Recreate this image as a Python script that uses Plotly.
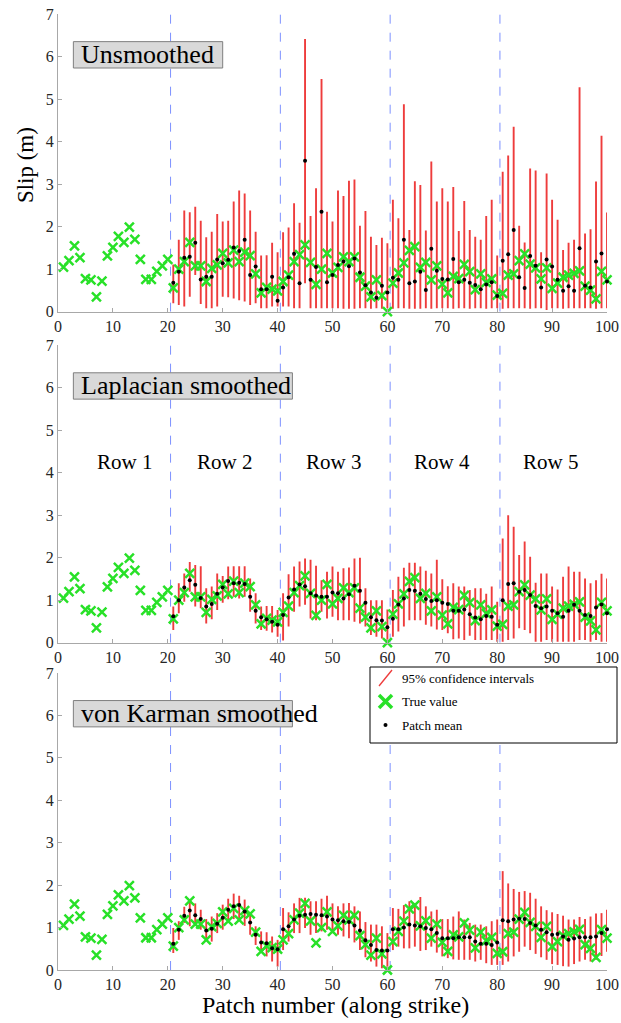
import plotly.graph_objects as go

# ---------------- data ----------------
patch_all = list(range(1, 101))
patch_ci = list(range(21, 101))

true_value = [1.05, 1.20, 1.55, 1.27, 0.78, 0.75, 0.35, 0.72, 1.31, 1.51,
              1.77, 1.63, 1.99, 1.70, 1.23, 0.76, 0.76, 0.95, 1.08, 1.23,
              0.56, 1.00, 1.18, 1.63, 1.08, 1.08, 0.71, 1.02, 1.10, 1.37,
              1.15, 1.45, 1.18, 1.40, 1.32, 0.89, 0.44, 0.57, 0.53, 0.49,
              0.71, 0.86, 1.18, 1.34, 1.57, 1.16, 0.64, 1.00, 1.37, 0.91,
              1.04, 1.29, 1.18, 1.29, 0.81, 0.60, 0.35, 0.75, 0.38, 0.00,
              0.67, 0.91, 1.15, 1.44, 1.53, 1.04, 1.16, 0.75, 1.08, 0.65,
              0.44, 0.83, 0.78, 1.11, 0.94, 0.52, 0.89, 0.69, 0.77, 0.39,
              0.43, 0.86, 0.89, 1.20, 1.36, 1.12, 1.03, 0.77, 1.03, 0.55,
              0.67, 0.81, 0.86, 0.90, 0.96, 0.60, 0.51, 0.30, 0.95, 0.75]

# Unsmoothed (patches 21-100)
mean_unsm = [0.68, 0.94, 1.27, 1.29, 1.62, 0.76, 0.82, 0.82, 1.23, 1.14,
             1.22, 1.51, 1.43, 1.69, 0.86, 1.06, 0.53, 0.53, 0.82, 0.26,
             0.57, 0.81, 1.36, 0.67, 3.55, 0.75, 1.05, 2.35, 0.69, 0.86,
             1.10, 1.18, 1.07, 1.25, 0.92, 0.62, 0.45, 0.33, 0.61, 0.45,
             0.80, 0.75, 1.69, 0.67, 0.71, 0.94, 0.51, 1.48, 0.96, 0.77,
             0.76, 1.24, 0.69, 0.75, 0.68, 0.63, 0.53, 0.64, 0.69, 0.37,
             1.20, 1.35, 1.92, 0.81, 0.56, 1.31, 1.08, 0.57, 1.23, 1.06,
             0.75, 0.49, 0.60, 0.49, 1.49, 0.61, 0.57, 1.18, 1.37, 0.71]
hi_unsm = [1.11, 1.69, 2.38, 2.34, 2.47, 2.14, 1.75, 1.88, 2.30, 2.12,
           2.14, 2.59, 2.85, 2.78, 2.38, 1.88, 1.32, 1.33, 1.62, 1.40,
           1.87, 1.98, 2.55, 2.09, 6.41, 2.25, 2.90, 5.47, 2.35, 2.12,
           2.85, 2.72, 3.08, 3.11, 2.02, 2.37, 1.76, 1.57, 1.74, 1.61,
           2.63, 2.20, 4.88, 1.92, 3.07, 2.98, 1.91, 3.53, 2.59, 2.90,
           2.59, 2.93, 1.90, 2.60, 1.92, 1.76, 1.69, 2.25, 2.63, 1.32,
           3.29, 3.67, 4.35, 2.02, 1.63, 3.37, 3.32, 1.40, 3.25, 2.63,
           2.16, 1.45, 1.62, 1.69, 5.28, 1.84, 1.94, 3.06, 4.14, 2.33]
lo_unsm = [0.20, 0.16, 0.12, 0.35, 0.86, 0.18, 0.08, 0.08, 0.12, 0.35,
           0.34, 0.31, 0.27, 0.24, 0.16, 0.20, 0.08, 0.08, 0.12, 0.12,
           0.12, 0.12, 0.08, 0.08, 0.67, 0.08, 0.08, 0.08, 0.08, 0.08,
           0.08, 0.07, 0.07, 0.07, 0.08, 0.08, 0.07, 0.08, 0.07, 0.08,
           0.07, 0.08, 0.08, 0.07, 0.07, 0.07, 0.08, 0.07, 0.08, 0.08,
           0.08, 0.07, 0.08, 0.08, 0.07, 0.08, 0.08, 0.07, 0.08, 0.08,
           0.07, 0.08, 0.08, 0.08, 0.08, 0.07, 0.08, 0.08, 0.04, 0.08,
           0.08, 0.07, 0.08, 0.08, 0.08, 0.08, 0.08, 0.07, 0.08, 0.08]

# Laplacian smoothed
mean_lap = [0.62, 1.00, 1.30, 1.47, 1.36, 1.05, 0.85, 0.91, 1.15, 1.30,
            1.45, 1.40, 1.41, 1.38, 1.08, 0.75, 0.60, 0.55, 0.49, 0.42,
            0.65, 1.06, 1.25, 1.37, 1.33, 1.16, 1.11, 1.08, 1.08, 1.18,
            1.16, 1.04, 1.14, 1.34, 1.22, 0.94, 0.60, 0.53, 0.52, 0.36,
            0.56, 0.90, 1.04, 1.24, 1.22, 1.15, 1.03, 0.98, 1.00, 0.94,
            0.91, 0.75, 0.75, 0.78, 0.67, 0.59, 0.55, 0.63, 0.61, 0.42,
            1.00, 1.38, 1.40, 1.20, 1.24, 1.12, 0.86, 0.81, 0.85, 0.75,
            0.69, 0.61, 0.75, 0.89, 0.75, 0.65, 0.63, 0.83, 0.90, 0.69]
hi_lap = [0.85, 1.40, 1.63, 1.90, 1.83, 1.80, 1.28, 1.32, 1.63, 1.57,
          1.79, 1.80, 1.80, 1.80, 1.51, 1.16, 0.85, 0.86, 0.86, 0.77,
          1.16, 1.61, 1.79, 1.91, 1.98, 1.95, 1.81, 1.47, 1.67, 1.79,
          1.67, 1.75, 1.77, 1.98, 2.00, 1.28, 1.00, 1.00, 1.00, 0.78,
          1.24, 1.55, 1.76, 1.88, 1.88, 1.79, 1.69, 1.63, 1.95, 1.49,
          1.33, 1.40, 1.32, 1.32, 1.24, 1.28, 1.28, 1.15, 1.32, 0.96,
          2.45, 3.00, 2.73, 2.06, 2.38, 2.02, 1.41, 1.63, 1.63, 1.32,
          1.25, 1.55, 1.79, 1.67, 1.67, 1.51, 1.40, 1.47, 1.62, 1.51]
lo_lap = [0.30, 0.69, 0.96, 1.20, 0.85, 0.81, 0.45, 0.55, 0.77, 0.94,
          1.02, 1.08, 1.04, 1.08, 0.73, 0.45, 0.30, 0.28, 0.24, 0.14,
          0.05, 0.38, 0.73, 0.85, 0.89, 0.57, 0.53, 0.73, 0.57, 0.61,
          0.53, 0.53, 0.53, 0.49, 0.45, 0.38, 0.18, 0.14, 0.10, 0.02,
          0.14, 0.26, 0.38, 0.53, 0.53, 0.53, 0.42, 0.38, 0.31, 0.30,
          0.22, 0.08, 0.10, 0.06, 0.16, 0.06, 0.06, 0.06, 0.06, 0.02,
          0.02, 0.06, 0.10, 0.34, 0.30, 0.22, 0.02, 0.02, 0.06, 0.02,
          0.02, 0.02, 0.02, 0.02, 0.06, 0.06, 0.02, 0.06, 0.02, 0.02]

# von Karman smoothed
mean_vk = [0.62, 0.95, 1.28, 1.40, 1.29, 1.20, 0.93, 0.97, 1.09, 1.23,
           1.42, 1.50, 1.53, 1.38, 1.12, 0.83, 0.65, 0.63, 0.51, 0.49,
           0.96, 1.03, 1.19, 1.28, 1.30, 1.32, 1.30, 1.29, 1.26, 1.19,
           1.17, 1.15, 1.13, 1.05, 0.93, 0.70, 0.59, 0.47, 0.46, 0.46,
           0.96, 0.96, 1.00, 1.07, 1.05, 1.03, 0.99, 0.96, 0.87, 0.75,
           0.75, 0.75, 0.77, 0.77, 0.77, 0.67, 0.62, 0.62, 0.59, 0.65,
           1.17, 1.15, 1.19, 1.21, 1.20, 1.11, 1.05, 0.95, 0.89, 0.83,
           0.85, 0.79, 0.71, 0.74, 0.77, 0.77, 0.77, 0.79, 0.87, 0.96]
hi_vk = [0.99, 1.15, 1.49, 1.62, 1.57, 1.42, 1.20, 1.26, 1.34, 1.54,
         1.68, 1.80, 1.75, 1.66, 1.34, 1.03, 0.91, 0.89, 0.79, 0.71,
         1.46, 1.36, 1.57, 1.70, 1.70, 1.62, 1.62, 1.68, 1.75, 1.57,
         1.50, 1.57, 1.58, 1.50, 1.38, 1.13, 1.07, 1.07, 1.03, 0.87,
         1.46, 1.44, 1.53, 1.62, 1.58, 1.72, 1.50, 1.38, 1.42, 1.20,
         1.20, 1.26, 1.38, 1.19, 1.11, 1.07, 1.07, 1.03, 1.15, 1.19,
         2.33, 2.04, 1.91, 1.84, 1.86, 1.82, 1.68, 1.50, 1.41, 1.36,
         1.32, 1.28, 1.19, 1.19, 1.25, 1.20, 1.26, 1.33, 1.34, 1.42]
lo_vk = [0.40, 0.71, 1.11, 1.03, 1.07, 0.95, 0.71, 0.67, 0.87, 0.95,
         1.11, 1.20, 1.19, 1.04, 0.83, 0.59, 0.41, 0.32, 0.20, 0.08,
         0.47, 0.67, 0.87, 0.87, 0.99, 0.83, 0.87, 0.91, 0.95, 0.87,
         0.83, 0.79, 0.75, 0.65, 0.47, 0.30, 0.20, 0.08, 0.04, 0.02,
         0.47, 0.55, 0.51, 0.51, 0.55, 0.45, 0.47, 0.55, 0.41, 0.32,
         0.28, 0.25, 0.24, 0.24, 0.24, 0.20, 0.24, 0.16, 0.12, 0.12,
         0.12, 0.20, 0.32, 0.43, 0.55, 0.47, 0.38, 0.30, 0.24, 0.14,
         0.12, 0.09, 0.08, 0.14, 0.20, 0.24, 0.20, 0.24, 0.33, 0.43]

panel_titles = ["Unsmoothed", "Laplacian smoothed", "von Karman smoothed"]
row_labels = ["Row 1", "Row 2", "Row 3", "Row 4", "Row 5"]
row_centers = [12.1, 30.3, 50.2, 70.0, 89.7]
row_bounds = [20.5, 40.5, 60.5, 80.5]
x_ticks = list(range(0, 101, 10))
y_ticks = list(range(0, 8))
legend_labels = ["95% confidence intervals", "True value", "Patch mean"]

# ---------------- styling ----------------
SERIF = "Liberation Serif"
RED = "rgb(238,60,60)"
GREEN = "rgb(40,225,40)"
AXC = "#a8a8a8"
DASH = "rgb(125,145,255)"

panels = [(mean_unsm, lo_unsm, hi_unsm), (mean_lap, lo_lap, hi_lap), (mean_vk, lo_vk, hi_vk)]
domains = [[0.6886, 1.0], [0.3424, 0.6536], [0.0, 0.3107]]

fig = go.Figure()

for i, (mean, lo, hi) in enumerate(panels):
    xs = "x" if i == 0 else f"x{i+1}"
    ys = "y" if i == 0 else f"y{i+1}"
    cx, cy = [], []
    for p, a, b in zip(patch_ci, lo, hi):
        cx += [p, p, None]
        cy += [a, b, None]
    fig.add_trace(go.Scatter(x=cx, y=cy, mode="lines", xaxis=xs, yaxis=ys,
                             line=dict(color=RED, width=1.9), showlegend=False,
                             hoverinfo="skip"))
    fig.add_trace(go.Scatter(x=patch_all, y=true_value, mode="markers", xaxis=xs, yaxis=ys,
                             marker=dict(symbol="x-thin", size=9, color=GREEN,
                                         line=dict(color=GREEN, width=2.5)),
                             cliponaxis=False, showlegend=False))
    fig.add_trace(go.Scatter(x=patch_ci, y=mean, mode="markers", xaxis=xs, yaxis=ys,
                             marker=dict(symbol="circle", size=4, color="black"),
                             cliponaxis=False, showlegend=False))

axis_common = dict(showline=True, linecolor=AXC, linewidth=1, ticks="inside",
                   ticklen=4, tickcolor=AXC, showgrid=False, zeroline=False,
                   automargin=False,
                   tickfont=dict(family=SERIF, size=16, color="#262626"))

layout = dict(width=621, height=1023, autosize=False, paper_bgcolor="white",
              plot_bgcolor="white", margin=dict(l=58, r=14, t=14, b=53, autoexpand=False),
              showlegend=False)
for i in range(3):
    xk = "xaxis" if i == 0 else f"xaxis{i+1}"
    yk = "yaxis" if i == 0 else f"yaxis{i+1}"
    ya = "y" if i == 0 else f"y{i+1}"
    xa = "x" if i == 0 else f"x{i+1}"
    layout[xk] = dict(axis_common, domain=[0, 1], anchor=ya, range=[0, 100],
                      tickvals=x_ticks)
    layout[yk] = dict(axis_common, domain=domains[i], anchor=xa, range=[0, 7],
                      tickvals=y_ticks)
fig.update_layout(**layout)

shapes = []
annotations = []
for i in range(3):
    xa = "x" if i == 0 else f"x{i+1}"
    ya = "y" if i == 0 else f"y{i+1}"
    for b in row_bounds:
        shapes.append(dict(type="line", xref=xa, yref=ya, x0=b, x1=b, y0=0, y1=7,
                           line=dict(color=DASH, width=1, dash="dash"), layer="below"))
    right = 30.0 if i == 0 else 42.7
    shapes.append(dict(type="rect", xref=xa, yref=ya, x0=2.8, x1=right, y0=5.73, y1=6.35,
                       fillcolor="#d9d9d9", line=dict(color="#7f7f7f", width=1), layer="above"))
    annotations.append(dict(text=panel_titles[i], xref=xa, yref=ya, x=3.9, y=6.04,
                            xanchor="left", yanchor="middle", showarrow=False,
                            font=dict(family=SERIF, size=26, color="black")))

for lab, xc in zip(row_labels, row_centers):
    annotations.append(dict(text=lab, xref="x2", yref="y2", x=xc, y=4.25,
                            showarrow=False, xanchor="center", yanchor="middle",
                            font=dict(family=SERIF, size=21, color="black")))

# axis titles
annotations.append(dict(text="Slip (m)", xref="paper", yref="paper", x=-0.06, y=0.842,
                        textangle=-90, showarrow=False, xanchor="center", yanchor="middle",
                        font=dict(family=SERIF, size=23, color="black")))
annotations.append(dict(text="Patch number (along strike)", xref="paper", yref="paper",
                        x=0.5046, y=-0.0366, showarrow=False, xanchor="center",
                        yanchor="middle", font=dict(family=SERIF, size=24, color="black")))

# legend (manual)
def px(xp):
    return (xp - 58) / 549.0
def py(yp):
    return 1 - (yp - 14) / 956.0

shapes.append(dict(type="rect", xref="paper", yref="paper", x0=px(370), x1=px(617),
                   y0=py(743), y1=py(667), fillcolor="white",
                   line=dict(color="black", width=1), layer="above"))
shapes.append(dict(type="line", xref="paper", yref="paper", x0=px(379), x1=px(392),
                   y0=py(686), y1=py(670), line=dict(color=RED, width=1.3), layer="above"))
for (a, b, c, d) in [(379, 695, 392, 708), (379, 708, 392, 695)]:
    shapes.append(dict(type="line", xref="paper", yref="paper", x0=px(a), x1=px(c),
                       y0=py(b), y1=py(d), line=dict(color=GREEN, width=3.5), layer="above"))
shapes.append(dict(type="circle", xref="paper", yref="paper", x0=px(383.5), x1=px(387.5),
                   y0=py(727), y1=py(723), fillcolor="black", line=dict(color="black", width=0),
                   layer="above"))
for lab, yp in zip(legend_labels, [678, 701, 725]):
    annotations.append(dict(text=lab, xref="paper", yref="paper", x=px(400), y=py(yp),
                            xanchor="left", yanchor="middle", showarrow=False,
                            font=dict(family=SERIF, size=13, color="black")))

fig.update_layout(shapes=shapes, annotations=annotations)
fig.write_html("out.html", config={"responsive": False},
               post_script="document.documentElement.style.overflow='hidden';"
                           "document.body.style.margin='0';document.body.style.overflow='hidden';")
